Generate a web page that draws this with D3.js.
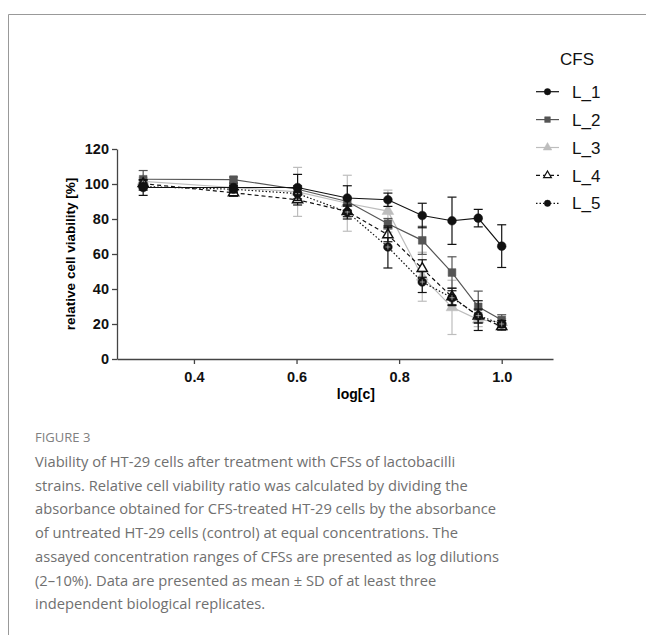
<!DOCTYPE html>
<html>
<head>
<meta charset="utf-8">
<script src="https://cdn.jsdelivr.net/npm/d3@7"></script>
<style>
  body { margin: 0; background: #fff; }
  svg { display: block; }
</style>
</head>
<body>
<svg id="chart" width="646" height="635"></svg>
<script>
(() => {
  // concentrations (%) -> plotted as log10
  const concentrations = [2, 3, 4, 5, 6, 7, 8, 9, 10];
  const seriesNames = ['L_1', 'L_2', 'L_3', 'L_4', 'L_5'];
  const l1 = [98, 98, 98, 92, 91, 82, 79, 80.5, 64.5];
  const l2 = [102.7, 102.5, 97, 90, 77.3, 67.8, 49.4, 29.8, 22.3];
  const l3 = [101.5, 98, 95.5, 89, 84.5, 47, 29.5, 22.5, 21];
  const l4 = [100.2, 95, 91, 84.3, 71, 51.7, 35.5, 24.5, 18.5];
  const l5 = [98.5, 97, 94.5, 84, 64, 44, 35, 24.8, 20];
  const l1Sd = [4.5, 2, 7.5, 7, 3.8, 7, 13.5, 5, 12.2];
  const l2Sd = [5, 1.5, 2, 2, 3, 8, 9, 9, 3];
  const l3Sd = [2, 4, 14, 16, 12, 14, 15.5, 4, 2];
  const l4Sd = [2, 2, 3, 3, 4, 5, 5, 4, 2];
  const l5Sd = [2, 2, 3, 4, 12, 6, 4, 8.5, 2];
  const xTicks = [0.4, 0.6, 0.8, 1.0];
  const yTicks = [0, 20, 40, 60, 80, 100, 120];

  const captionLines = [
    'Viability of HT-29 cells after treatment with CFSs of lactobacilli',
    'strains. Relative cell viability ratio was calculated by dividing the',
    'absorbance obtained for CFS-treated HT-29 cells by the absorbance',
    'of untreated HT-29 cells (control) at equal concentrations. The',
    'assayed concentration ranges of CFSs are presented as log dilutions',
    '(2\u201310%). Data are presented as mean \u00b1 SD of at least three',
    'independent biological replicates.'
  ];

  const values = [l1, l2, l3, l4, l5];
  const sds = [l1Sd, l2Sd, l3Sd, l4Sd, l5Sd];

  const styles = [
    {color: '#111', symbol: d3.symbolCircle, fill: '#111', dash: null},
    {color: '#555', symbol: d3.symbolSquare, fill: '#555', dash: null},
    {color: '#bdbdbd', symbol: d3.symbolTriangle, fill: '#bdbdbd', dash: null},
    {color: '#111', symbol: d3.symbolTriangle, fill: '#fff', dash: '4,3'},
    {color: '#111', symbol: d3.symbolCircle, fill: '#111', dash: '1.5,2'}
  ];

  const series = seriesNames.map((name, i) => ({
    name: name,
    style: styles[i],
    points: concentrations.map((c, j) => ({
      x: Math.log10(c), y: values[i][j], sd: sds[i][j]
    }))
  }));

  const sans = '"Liberation Sans", Arial, sans-serif';
  const svg = d3.select('#chart');

  // figure frame
  svg.append('path')
      .attr('d', 'M8.5,635V14.5H646')
      .attr('fill', 'none')
      .attr('stroke', '#999')
      .attr('stroke-width', 1);

  const x = d3.scaleLinear().domain([0.25, 1.1]).range([117, 553]);
  const y = d3.scaleLinear().domain([0, 120]).range([359, 149]);

  const axisColor = '#444';

  const xAxis = svg.append('g')
      .attr('transform', `translate(0,${y(0)})`)
      .call(d3.axisBottom(x).tickValues(xTicks).tickFormat(d3.format('.1f'))
          .tickSize(5).tickSizeOuter(0));
  const yAxis = svg.append('g')
      .attr('transform', `translate(${x.range()[0]},0)`)
      .call(d3.axisLeft(y).tickValues(yTicks).tickSize(5).tickSizeOuter(0));

  [xAxis, yAxis].forEach(a => {
    a.attr('font-family', sans).attr('font-size', 14.5).attr('font-weight', 'bold');
    a.select('.domain').attr('stroke', axisColor).attr('stroke-width', 1.3);
    a.selectAll('.tick line').attr('stroke', axisColor).attr('stroke-width', 1.3);
    a.selectAll('.tick text').attr('fill', '#111');
  });
  xAxis.selectAll('.tick text').attr('y', 10).attr('dy', '0.9em');
  yAxis.selectAll('.tick text').attr('x', -8);

  svg.append('text')
      .attr('x', (x(0.4) + x(1.0)) / 2 + 8)
      .attr('y', 399)
      .attr('text-anchor', 'middle')
      .attr('font-family', sans).attr('font-size', 14).attr('font-weight', 'bold')
      .text('log[c]');

  svg.append('text')
      .attr('transform', `translate(75,${(y(0) + y(120)) / 2})rotate(-90)`)
      .attr('text-anchor', 'middle')
      .attr('font-family', sans).attr('font-size', 13.5).attr('font-weight', 'bold')
      .text('relative cell viability [%]');

  const line = d3.line().x(d => x(d.x)).y(d => y(d.y));
  const capW = 4.5;

  // draw lighter series first so the dark ones stay on top
  const order = [2, 1, 3, 4, 0];
  order.forEach(i => {
    const s = series[i];
    const g = svg.append('g');

    const eb = g.selectAll('g.eb').data(s.points).enter().append('g')
        .attr('stroke', s.style.color).attr('stroke-width', 1.2);
    eb.append('line')
        .attr('x1', d => x(d.x)).attr('x2', d => x(d.x))
        .attr('y1', d => y(d.y - d.sd)).attr('y2', d => y(d.y + d.sd));
    eb.append('line')
        .attr('x1', d => x(d.x) - capW).attr('x2', d => x(d.x) + capW)
        .attr('y1', d => y(d.y + d.sd)).attr('y2', d => y(d.y + d.sd));
    eb.append('line')
        .attr('x1', d => x(d.x) - capW).attr('x2', d => x(d.x) + capW)
        .attr('y1', d => y(d.y - d.sd)).attr('y2', d => y(d.y - d.sd));

    g.append('path')
        .datum(s.points)
        .attr('d', line)
        .attr('fill', 'none')
        .attr('stroke', s.style.color)
        .attr('stroke-width', 1.2)
        .attr('stroke-dasharray', s.style.dash);

    g.selectAll('path.pt').data(s.points).enter().append('path')
        .attr('class', 'pt')
        .attr('transform', d => `translate(${x(d.x)},${y(d.y)})`)
        .attr('d', d3.symbol().type(s.style.symbol).size(i === 3 ? 45 : 60))
        .attr('fill', s.style.fill)
        .attr('stroke', s.style.color)
        .attr('stroke-width', i === 3 ? 1.5 : 0.5);

    if (i === 4) {
      // thin white cross inside L_5 markers
      g.selectAll('path.cross').data(s.points).enter().append('path')
          .attr('transform', d => `translate(${x(d.x)},${y(d.y)})`)
          .attr('d', 'M-2.5,0H2.5M0,-2.5V2.5')
          .attr('stroke', '#fff')
          .attr('stroke-width', 0.5);
    }
  });

  // legend
  svg.append('text')
      .attr('x', 560)
      .attr('y', 65)
      .attr('font-family', sans).attr('font-size', 17)
      .attr('fill', '#111')
      .text('CFS');

  const legend = svg.append('g').selectAll('g')
      .data(series)
      .enter().append('g')
      .attr('transform', (d, i) => `translate(0,${91.7 + i * 27.9})`);

  legend.append('line')
      .attr('x1', 536).attr('x2', 559)
      .attr('stroke', d => d.style.color)
      .attr('stroke-width', 1.2)
      .attr('stroke-dasharray', d => d.style.dash);
  legend.append('path')
      .attr('transform', 'translate(547.5,0)')
      .attr('d', (d, i) => d3.symbol().type(d.style.symbol).size(i === 3 ? 26 : 32)())
      .attr('fill', d => d.style.fill)
      .attr('stroke', d => d.style.color)
      .attr('stroke-width', (d, i) => i === 3 ? 1.2 : 0.5);
  legend.append('text')
      .attr('x', 572)
      .attr('dy', '0.36em')
      .attr('font-family', sans).attr('font-size', 17)
      .attr('fill', '#111')
      .text(d => d.name);

  // caption
  svg.append('text')
      .attr('x', 35)
      .attr('y', 442)
      .attr('fill', '#808080')
      .attr('font-family', '"Open Sans", "Noto Sans", sans-serif')
      .attr('font-size', 13)
      .text('FIGURE 3');

  svg.append('g').selectAll('text')
      .data(captionLines)
      .enter().append('text')
      .attr('x', 35)
      .attr('y', (d, i) => 467 + i * 23.7)
      .attr('fill', '#707070')
      .attr('font-family', '"Open Sans", "Noto Sans", sans-serif')
      .attr('font-size', 14.7)
      .text(d => d);
})();
</script>
</body>
</html>
